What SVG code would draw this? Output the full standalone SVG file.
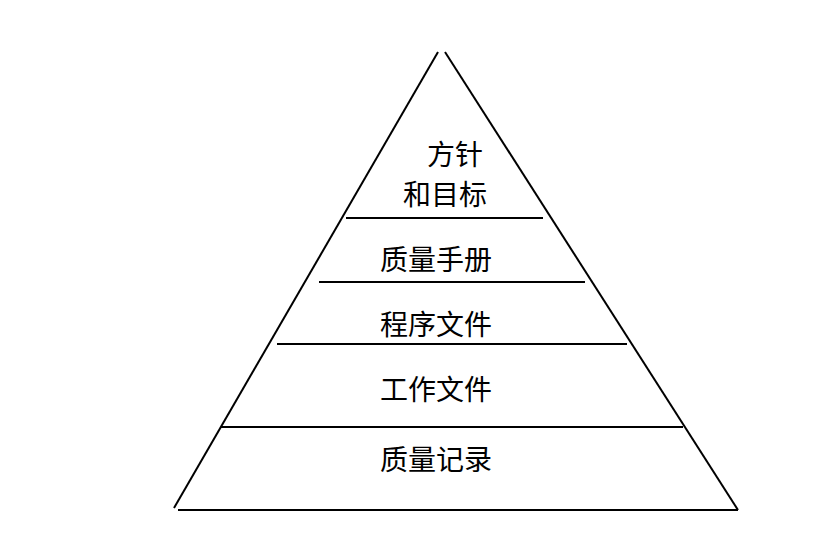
<svg xmlns="http://www.w3.org/2000/svg" width="839" height="547" viewBox="0 0 839 547">
<style>
.l{stroke:#000;stroke-width:2;fill:none}
.t{font-family:"Liberation Serif","Noto Sans CJK SC",serif;font-size:28px;fill:#000;text-anchor:middle}
</style>
<rect width="839" height="547" fill="#fff"/>
<g id="connectors">
<line class="l" x1="438" y1="52" x2="174" y2="508"/>
<line class="l" x1="445" y1="52" x2="738" y2="510"/>
<line class="l" x1="178" y1="510" x2="738" y2="510"/>
<line class="l" x1="346" y1="218" x2="543" y2="218"/>
<line class="l" x1="319" y1="282" x2="585" y2="282"/>
<line class="l" x1="277" y1="344" x2="627" y2="344"/>
<line class="l" x1="221" y1="427" x2="683" y2="427"/>
</g>
<g id="n1"><text class="t" x="455" y="165">方针</text><text class="t" x="445" y="205">和目标</text></g>
<g id="n2"><text class="t" x="436" y="270">质量手册</text></g>
<g id="n3"><text class="t" x="436" y="335">程序文件</text></g>
<g id="n4"><text class="t" x="436" y="400">工作文件</text></g>
<g id="n5"><text class="t" x="436" y="470">质量记录</text></g>
</svg>
